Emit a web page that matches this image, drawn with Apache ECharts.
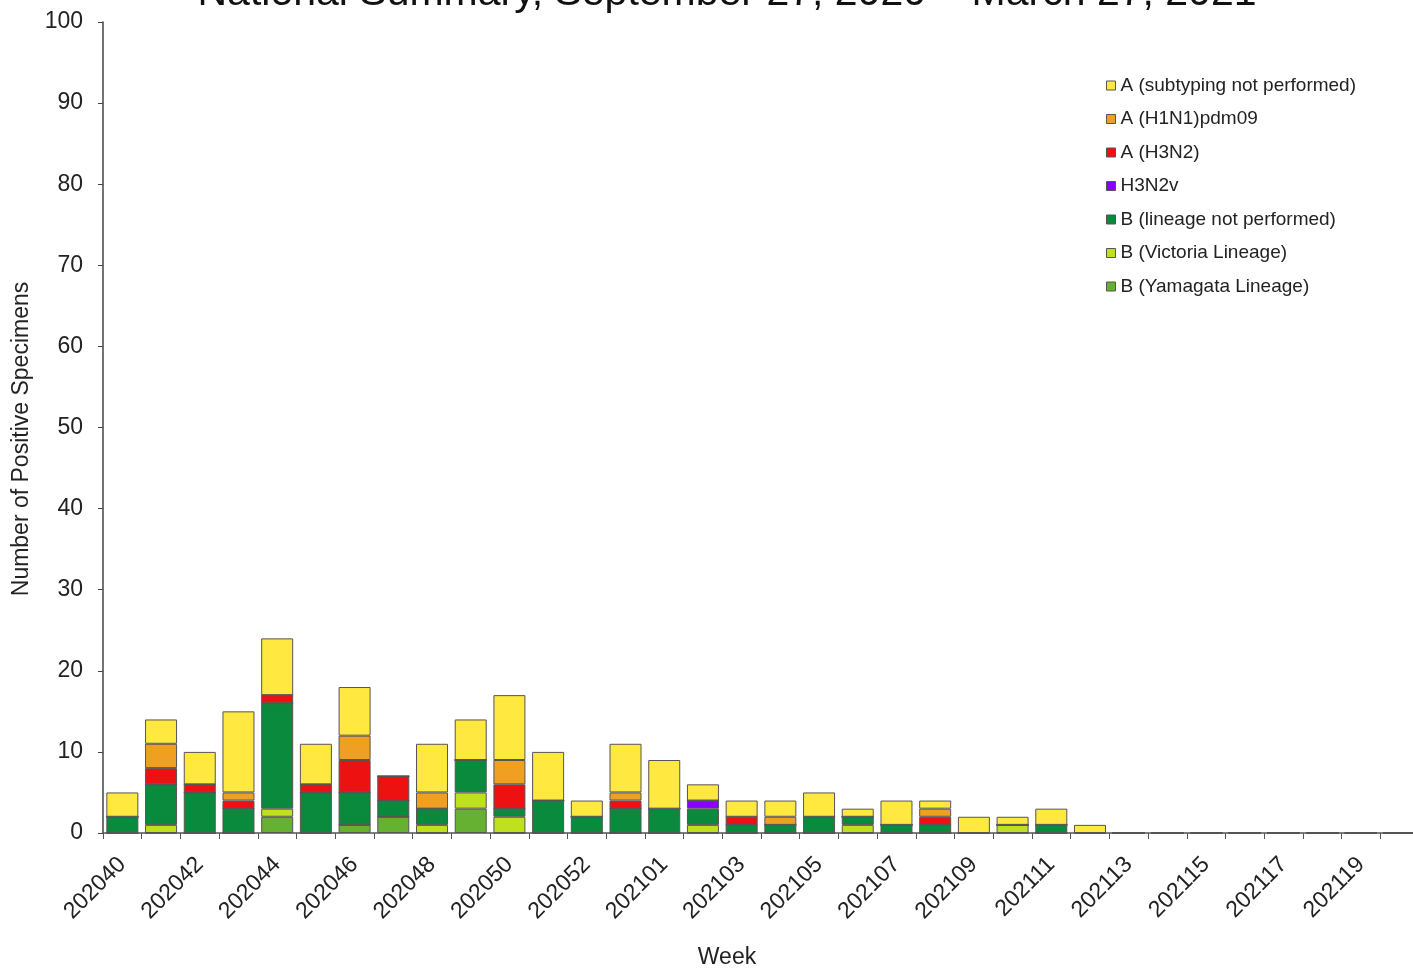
<!DOCTYPE html>
<html>
<head>
<meta charset="utf-8">
<script src="https://cdn.jsdelivr.net/npm/echarts@6/dist/echarts.min.js"></script>
<style>html,body{margin:0;padding:0;background:#fff;}#c{width:1413px;height:968px;}</style>
</head>
<body>
<div id="c"></div>
<script>
const weeks = ['202040','202041','202042','202043','202044','202045','202046','202047','202048','202049','202050','202051','202052','202053',
  '202101','202102','202103','202104','202105','202106','202107','202108','202109','202110','202111','202112','202113','202114','202115','202116','202117','202118','202119','202120'];
const yamagata   = [0,0,0,0,2,0,1,2,0,3,0,0,0,0, 0,0,0,0,0,0,0,0,0,0,0,0,0,0,0,0,0,0,0,0];
const victoria   = [0,1,0,0,1,0,0,0,1,2,2,0,0,0, 0,1,0,0,0,1,0,0,0,1,0,0,0,0,0,0,0,0,0,0];
const bLineageNP = [2,5,5,3,13,5,4,2,2,4,1,4,2,3, 3,2,1,1,2,1,1,1,0,0,1,0,0,0,0,0,0,0,0,0];
const h3n2v      = [0,0,0,0,0,0,0,0,0,0,0,0,0,0, 0,1,0,0,0,0,0,0,0,0,0,0,0,0,0,0,0,0,0,0];
const h3n2       = [0,2,1,1,1,1,4,3,0,0,3,0,0,1, 0,0,1,0,0,0,0,1,0,0,0,0,0,0,0,0,0,0,0,0];
const h1n1       = [0,3,0,1,0,0,3,0,2,0,3,0,0,1, 0,0,0,1,0,0,0,1,0,0,0,0,0,0,0,0,0,0,0,0];
const aNotSub    = [3,3,4,10,7,5,6,0,6,5,8,6,2,6, 6,2,2,2,3,1,3,1,2,1,2,1,0,0,0,0,0,0,0,0];
const yTicks = [0,10,20,30,40,50,60,70,80,90,100];

const names = ['A (subtyping not performed)','A (H1N1)pdm09','A (H3N2)','H3N2v','B (lineage not performed)','B (Victoria Lineage)','B (Yamagata Lineage)'];
const font = 'Liberation Sans, Arial, sans-serif';
const stackDefs = [
  ['B (Yamagata Lineage)', yamagata, '#66B032'],
  ['B (Victoria Lineage)', victoria, '#BFE01E'],
  ['B (lineage not performed)', bLineageNP, '#0A8A3C'],
  ['H3N2v', h3n2v, '#8A00FF'],
  ['A (H3N2)', h3n2, '#EE1111'],
  ['A (H1N1)pdm09', h1n1, '#F0A020'],
  ['A (subtyping not performed)', aNotSub, '#FFE840']
];
const chart = echarts.init(document.getElementById('c'));
chart.setOption({
  backgroundColor: '#fff',
  animation: false,
  graphic: [
    {type: 'text', x: 727, y: 14, silent: true,
      style: {text: 'National Summary, September 27, 2020 \u2013 March 27, 2021', font: '41px Liberation Sans, Arial, sans-serif',
        fill: '#111', align: 'center', verticalAlign: 'bottom'}},
    {type: 'text', x: 727, y: 958, silent: true,
      style: {text: 'Week', font: '23px Liberation Sans, Arial, sans-serif', fill: '#222', align: 'center', verticalAlign: 'middle'}},
    {type: 'text', x: 22, y: 439, rotation: Math.PI / 2, silent: true,
      style: {text: 'Number of Positive Specimens', font: '23px Liberation Sans, Arial, sans-serif', fill: '#222', align: 'center', verticalAlign: 'middle'}}
  ],
  legend: {
    data: names, orient: 'vertical', left: 1101, top: 71,
    itemWidth: 9, itemHeight: 9, itemGap: 14.5,
    icon: 'rect',
    itemStyle: {borderColor: '#555', borderWidth: 1},
    textStyle: {fontFamily: font, fontSize: 19, color: '#222'}
  },
  grid: {left: 103, right: -6, top: 22, bottom: 135, outerBoundsMode: 'none', containLabel: false},
  xAxis: {
    type: 'category', data: weeks,
    axisLine: {lineStyle: {color: '#555', width: 1.5}},
    axisTick: {show: true, alignWithLabel: false, interval: 0, length: 6, lineStyle: {color: '#555'}},
    axisLabel: {interval: 1, rotate: 45, fontFamily: font, fontSize: 23, color: '#222', margin: 28}
  },
  yAxis: {
    type: 'value', min: 0, max: 100, interval: 10,
    axisLine: {show: true, lineStyle: {color: '#444', width: 1.5}},
    axisTick: {show: true, length: 5, lineStyle: {color: '#444'}},
    splitLine: {show: false},
    axisLabel: {fontFamily: font, fontSize: 23, color: '#222', margin: 20,
      formatter: v => yTicks.includes(v) ? String(v) : ''}
  },
  series: stackDefs.map(([n, d, c]) => ({
    name: n, type: 'bar', stack: 'all', data: d, barWidth: 32,
    itemStyle: {color: c, borderColor: '#555', borderWidth: 1}
  }))
});
</script>
</body>
</html>
